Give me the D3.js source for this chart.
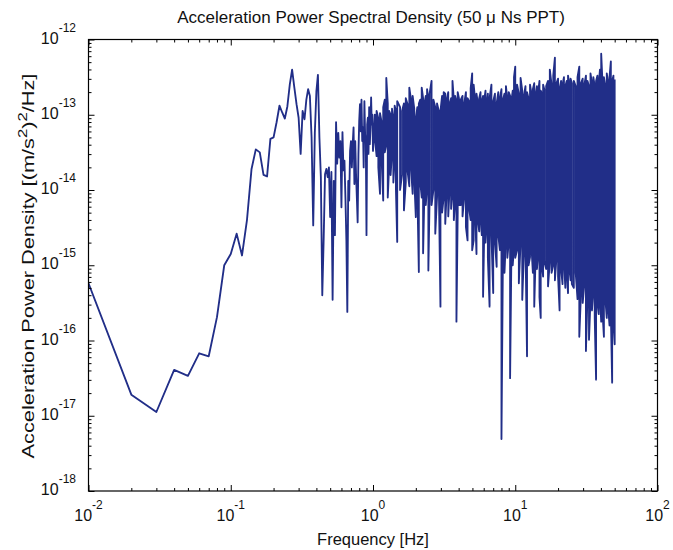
<!DOCTYPE html>
<html><head><meta charset="utf-8">
<script src="https://cdn.jsdelivr.net/npm/d3@7"></script>
<style>
html,body{margin:0;padding:0;background:#fff;}
svg{display:block;font-family:"Liberation Sans",Arial,sans-serif;}
</style></head>
<body>
<svg id="chart" width="673" height="550"></svg>
<script>
// ---------- data ----------
const titleText = "Acceleration Power Spectral Density (50 \u03bc Ns PPT)";
const xLabelText = "Frequency [Hz]";
const xTickExponents = [-2, -1, 0, 1, 2];
const yTickExponents = [-18, -17, -16, -15, -14, -13, -12];

// low-frequency bins, 0.01 Hz resolution (Hz)
const lowFreq = [0.01,0.02,0.03,0.04,0.05,0.06,0.07,0.08,0.09,0.10,
 0.11,0.12,0.13,0.14,0.15,0.16,0.17,0.18,0.19,0.20,
 0.21,0.22,0.23,0.24,0.25,0.26,0.27,0.28,0.29,0.30,
 0.31,0.32,0.33,0.34,0.35,0.36,0.37,0.38,0.39,0.40,
 0.41,0.42,0.43,0.44,0.45,0.46,0.47,0.48,0.49,0.50,
 0.51,0.52,0.53,0.54,0.55,0.56,0.57,0.58,0.59,0.60,
 0.61,0.62,0.63,0.64,0.65,0.66,0.67,0.68,0.69,0.70,
 0.71,0.72,0.73,0.74,0.75,0.76,0.77,0.78,0.79,0.80,
 0.81,0.82,0.83,0.84,0.85,0.86,0.87,0.88,0.89,0.90,
 0.91,0.92,0.93,0.94,0.95,0.96,0.97,0.98,0.99,1.00];
// log10 of PSD [(m/s^2)^2/Hz] at those bins
const lowPsdExp = [-15.24,-16.72,-16.95,-16.39,-16.47,-16.17,-16.21,-15.69,-15.00,-14.85,
 -14.58,-14.87,-14.40,-13.72,-13.46,-13.50,-13.80,-13.82,-13.32,-13.30,
 -13.10,-12.88,-12.97,-13.05,-12.89,-12.60,-12.40,-12.64,-12.86,-13.04,
 -13.52,-12.95,-13.06,-12.80,-12.66,-12.75,-13.30,-14.47,-13.24,-12.69,
 -12.47,-13.30,-13.83,-15.40,-14.65,-13.79,-13.72,-13.83,-13.70,-14.36,
 -13.76,-15.46,-13.88,-14.60,-13.10,-13.65,-13.24,-13.57,-13.35,-14.23,
 -13.23,-13.74,-13.61,-14.10,-14.67,-15.62,-13.88,-14.14,-13.48,-13.35,
 -13.70,-13.39,-13.17,-13.92,-13.35,-13.79,-14.10,-14.43,-13.52,-13.08,
 -12.86,-13.22,-12.80,-13.35,-13.17,-13.70,-12.82,-13.26,-13.35,-14.60,
 -13.13,-13.04,-13.52,-12.90,-13.39,-13.17,-12.77,-13.13,-13.00,-13.48];

// dense part above 1 Hz: per narrow frequency slice, highest and lowest log10 PSD
const hfFreq = [1.03,1.06,1.09,1.12,1.15,1.18,1.21,1.24,1.27,1.30,1.33,1.36,1.39,1.42,1.45,1.48,
 1.55,1.60,1.65,1.70,1.75,1.80,1.85,1.90,1.95,2.00,2.05,2.10,2.15,2.20,2.25,2.30,2.35,2.40,2.45,2.50,
 2.58,2.66,2.74,2.82,2.90,2.98,3.06,3.14,3.22,3.30,3.38,3.46,3.54,3.62,3.70,3.78,3.86,3.94,4.02,
 4.14,4.26,4.38,4.50,4.62,4.74,4.86,4.98,5.10,5.22,5.34,5.46,5.58,5.70,5.82,5.94,6.06,6.18,6.30,6.42,
 6.6,6.8,7.0,7.2,7.4,7.6,7.8,8.0,8.2,8.4,8.6,8.8,9.0,9.2,9.4,9.6,9.8,10.0,
 10.3,10.6,10.9,11.2,11.5,11.8,12.1,12.4,12.7,13.0,13.3,13.6,13.9,14.2,14.5,14.8,15.1,15.4,15.7,16.0,
 16.5,17.0,17.5,18.0,18.5,19.0,19.5,20.0,20.5,21.0,21.5,22.0,22.5,23.0,23.5,24.0,24.5,25.0,
 25.8,26.6,27.4,28.2,29.0,29.8,30.6,31.4,32.2,33.0,33.8,34.6,35.4,36.2,37.0,37.8,38.6,39.4,40.2,
 41,42,43,44,45,46,47,48,49,50];
const hfMaxExp = [-13.00,-12.95,-13.05,-12.98,-13.10,-12.90,-12.80,-12.51,-12.85,-12.95,-13.00,-12.92,-13.05,-12.88,-12.95,-12.82,
 -12.90,-12.95,-12.85,-12.78,-12.86,-12.64,-12.80,-12.75,-12.92,-13.05,-12.90,-12.85,-12.80,-12.64,-12.78,-12.85,-12.75,-12.66,-12.80,-12.72,
 -12.55,-12.80,-12.90,-12.85,-12.95,-12.95,-12.75,-12.70,-12.72,-12.80,-12.70,-12.85,-12.78,-12.55,-12.80,-12.75,-12.82,-12.70,-12.78,
 -12.80,-12.75,-12.85,-12.70,-12.78,-12.82,-12.65,-12.45,-12.60,-12.80,-12.72,-12.85,-12.78,-12.70,-12.82,-12.75,-12.80,-12.68,-12.85,-12.72,
 -12.78,-12.60,-12.82,-12.72,-12.85,-12.70,-12.78,-12.66,-12.80,-12.72,-12.62,-12.80,-12.70,-12.75,-12.82,-12.68,-12.50,-12.36,
 -12.60,-12.72,-12.51,-12.68,-12.75,-12.62,-12.70,-12.78,-12.60,-12.72,-12.66,-12.58,-12.74,-12.62,-12.70,-12.55,-12.68,-12.72,-12.60,-12.66,
 -12.62,-12.55,-12.40,-12.60,-12.48,-12.24,-12.58,-12.52,-12.65,-12.55,-12.60,-12.50,-12.62,-12.55,-12.48,-12.60,-12.52,-12.58,
 -12.55,-12.62,-12.50,-12.36,-12.58,-12.52,-12.60,-12.48,-12.55,-12.62,-12.45,-12.58,-12.50,-12.62,-12.55,-12.48,-12.60,-12.40,-12.19,
 -12.55,-12.50,-12.62,-12.45,-12.58,-12.50,-12.29,-12.55,-12.48,-12.53];
const hfMinExp = [-13.30,-13.55,-13.70,-14.05,-13.60,-14.14,-13.50,-13.40,-14.10,-13.65,-13.80,-13.50,-13.90,-13.60,-14.00,-14.69,
 -14.00,-13.80,-14.27,-13.90,-13.75,-13.95,-13.70,-14.05,-13.85,-14.36,-14.00,-15.09,-13.90,-14.10,-14.84,-14.00,-14.20,-13.95,-15.07,-14.10,
 -14.20,-14.00,-14.58,-14.10,-13.90,-15.55,-14.30,-14.10,-14.45,-14.00,-14.35,-13.95,-14.25,-14.05,-14.40,-14.15,-15.75,-14.30,-14.20,
 -14.20,-14.35,-14.10,-14.49,-14.67,-14.25,-14.40,-14.80,-14.67,-14.30,-14.85,-14.40,-14.55,-14.35,-14.60,-15.42,-14.50,-14.70,-14.45,-14.90,
 -15.55,-14.60,-15.37,-14.70,-15.02,-14.60,-14.80,-17.31,-14.75,-15.10,-14.65,-14.90,-14.70,-16.50,-14.80,-15.00,-14.75,-14.90,
 -14.80,-15.24,-14.70,-15.46,-14.85,-14.70,-16.21,-15.00,-14.89,-14.75,-15.10,-15.55,-14.90,-15.05,-14.85,-15.42,-15.70,-15.00,-15.15,-14.95,
 -15.05,-15.28,-14.95,-15.10,-15.00,-15.20,-14.90,-15.15,-15.60,-15.05,-15.25,-14.95,-15.30,-15.10,-15.37,-15.05,-15.20,-15.25,
 -15.30,-15.10,-15.45,-15.95,-15.35,-15.50,-15.25,-16.14,-15.40,-15.99,-15.45,-15.60,-15.35,-15.70,-16.52,-15.50,-15.65,-15.40,-15.75,
 -15.60,-15.95,-15.45,-15.70,-15.55,-15.80,-15.65,-16.56,-15.75,-16.05];

// ---------- chart ----------
const svg = d3.select("#chart");
const M = {l: 88.5, r: 657.5, t: 39.5, b: 491};
const x = d3.scaleLog().domain([1e-2, 1e2]).range([M.l, M.r]);
const y = d3.scaleLog().domain([1e-18, 1e-12]).range([M.b, M.t]);

// series points: low bins, then the dense part as min/max slices
const pts = lowFreq.map((f, i) => [f, Math.pow(10, lowPsdExp[i])]);
hfFreq.forEach((f, i) => {
  const hi = Math.pow(10, hfMaxExp[i]), lo = Math.pow(10, hfMinExp[i]);
  if (i % 2 === 0) { pts.push([f, hi]); pts.push([f, lo]); }
  else { pts.push([f, lo]); pts.push([f, hi]); }
});

svg.append("defs").append("clipPath").attr("id", "clip")
  .append("rect").attr("x", M.l).attr("y", M.t).attr("width", M.r - M.l).attr("height", M.b - M.t);

const line = d3.line().x(d => x(d[0])).y(d => y(d[1]));
svg.append("path").datum(pts)
  .attr("clip-path", "url(#clip)")
  .attr("d", line)
  .attr("fill", "none")
  .attr("stroke", "#212e88")
  .attr("stroke-width", 1.85)
  .attr("stroke-linejoin", "round");

// ticks (inward, all four sides)
const xMajor = xTickExponents.map(e => Math.pow(10, e));
const yMajor = yTickExponents.map(e => Math.pow(10, e));
const isMajor = v => Math.abs(Math.log10(v) - Math.round(Math.log10(v))) < 1e-9;
const xMinor = x.ticks().filter(v => !isMajor(v));
const yMinor = y.ticks().filter(v => !isMajor(v));

function styleAxis(g) {
  g.select(".domain").remove();
  g.selectAll(".tick line").attr("stroke", "#000").attr("stroke-width", 1);
  g.selectAll(".tick text").remove();
}
const axes = [
  [d3.axisBottom(x), `translate(0,${M.b})`, xMajor, xMinor],
  [d3.axisTop(x), `translate(0,${M.t})`, xMajor, xMinor],
  [d3.axisLeft(y), `translate(${M.l},0)`, yMajor, yMinor],
  [d3.axisRight(y), `translate(${M.r},0)`, yMajor, yMinor]
];
axes.forEach(([ax, tr, maj, min]) => {
  svg.append("g").attr("transform", tr).call(ax.tickValues(maj).tickSize(-6).tickFormat("")).call(styleAxis);
  svg.append("g").attr("transform", tr).call(ax.tickValues(min).tickSize(-3).tickFormat("")).call(styleAxis);
});

// box
svg.append("rect").attr("x", M.l).attr("y", M.t).attr("width", M.r - M.l).attr("height", M.b - M.t)
  .attr("fill", "none").attr("stroke", "#000").attr("stroke-width", 1.2);

// tick labels
xTickExponents.forEach(e => {
  const t = svg.append("text").attr("x", x(Math.pow(10, e))).attr("y", 521)
    .attr("text-anchor", "middle").attr("font-size", 16).attr("fill", "#111");
  t.append("tspan").text("10");
  t.append("tspan").attr("dy", -12).attr("font-size", 12).text(e);
});
yTickExponents.forEach(e => {
  const t = svg.append("text").attr("x", 76).attr("y", y(Math.pow(10, e)) + 4)
    .attr("text-anchor", "end").attr("font-size", 16).attr("fill", "#111");
  t.append("tspan").text("10");
  t.append("tspan").attr("dy", -12).attr("font-size", 12).text(e);
});

// title and axis labels
svg.append("text").attr("x", 371).attr("y", 23).attr("text-anchor", "middle")
  .attr("font-size", 17).attr("fill", "#111").text(titleText);
svg.append("text").attr("x", 373).attr("y", 545).attr("text-anchor", "middle")
  .attr("font-size", 16.5).attr("fill", "#111").text(xLabelText);

const yl = svg.append("text").attr("text-anchor", "middle")
  .attr("font-size", 17).attr("fill", "#111");
yl.append("tspan").text("Acceleration Power Density [(m/s");
yl.append("tspan").attr("dy", -7).attr("font-size", 13).text("2");
yl.append("tspan").attr("dy", 7).text(")");
yl.append("tspan").attr("dy", -7).attr("font-size", 13).text("2");
yl.append("tspan").attr("dy", 7).text("/Hz]");
const len = yl.node().getComputedTextLength();
const sx = 385 / len;
yl.attr("transform", `translate(34,266) rotate(-90) scale(${sx},1)`);
</script>
</body></html>
